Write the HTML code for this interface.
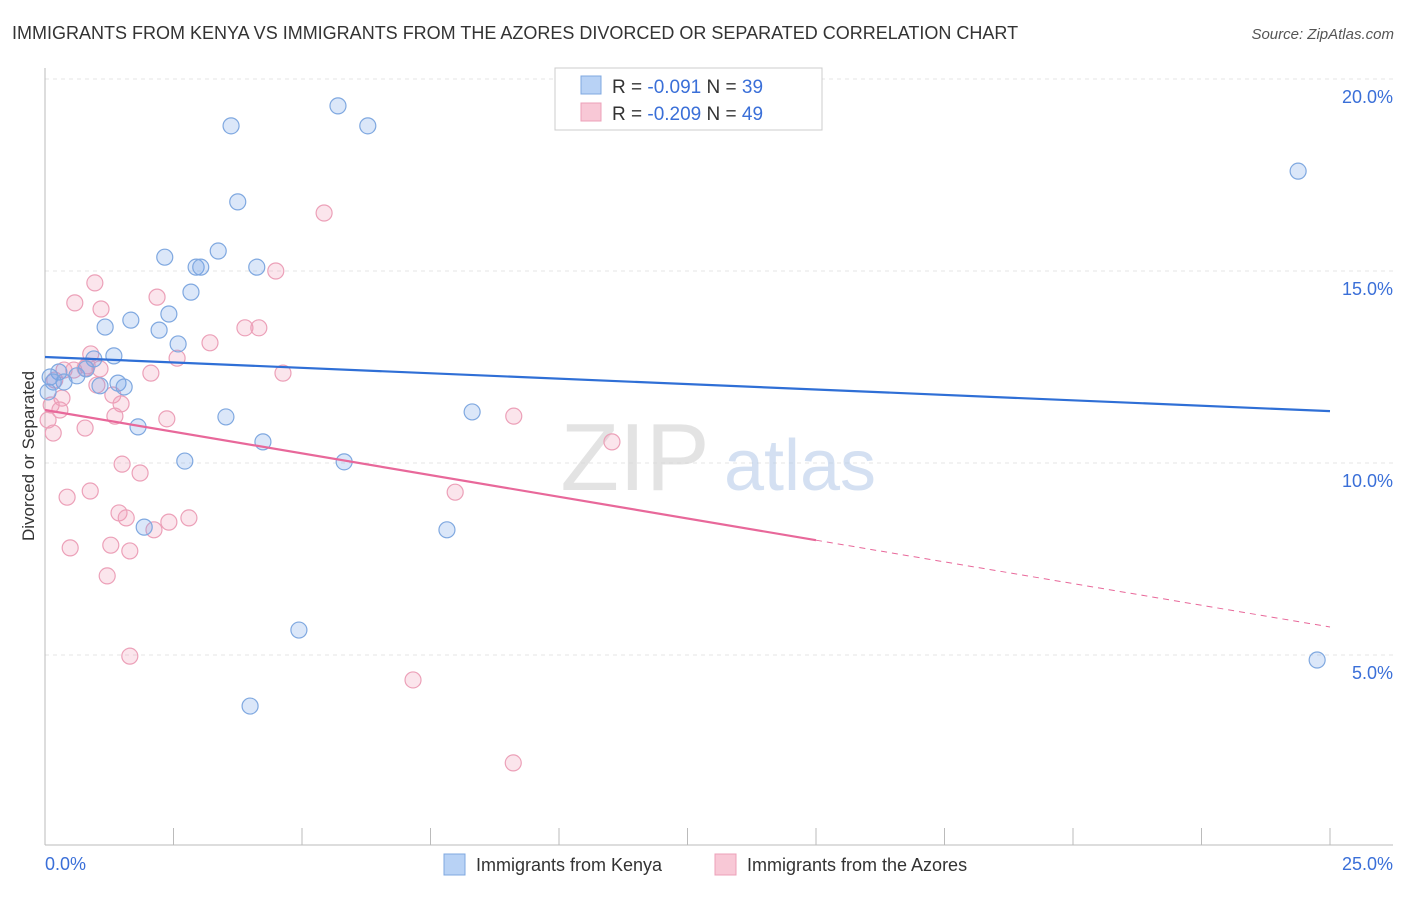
<!DOCTYPE html>
<html><head><meta charset="utf-8"><style>
body{margin:0;background:#fff;font-family:"Liberation Sans",sans-serif;}
svg text{font-family:"Liberation Sans",sans-serif;}
</style></head><body>
<svg id="chart" width="1406" height="892">
<text x="12" y="39" font-size="18" fill="#333">IMMIGRANTS FROM KENYA VS IMMIGRANTS FROM THE AZORES DIVORCED OR SEPARATED CORRELATION CHART</text>
<text x="1394" y="39" font-size="15" fill="#555" text-anchor="end" font-style="italic">Source: ZipAtlas.com</text>
<g id="grid"></g>
<g id="watermark">
<text x="635" y="490" font-size="96" fill="#d8d8d8" font-family="Liberation Serif" text-anchor="middle" opacity="0.7">ZIP</text>
<text x="800" y="490" font-size="72" fill="#b8cdea" text-anchor="middle" opacity="0.6">atlas</text>
</g>
<g id="axes"></g>
<g id="pts"></g>
<g id="trend"></g>
<text x="34" y="456" font-size="17" fill="#333" text-anchor="middle" transform="rotate(-90 34 456)">Divorced or Separated</text>
<g>
<rect x="555" y="68" width="267" height="62" fill="#fff" stroke="#ccc"/>
<rect x="581" y="76" width="20" height="18" fill="#b8d2f5" stroke="#7fa8e0"/>
<rect x="581" y="103" width="20" height="18" fill="#f8c8d6" stroke="#eca0b8"/>
<text x="612" y="93" font-size="19" fill="#333">R = <tspan fill="#3a6fd8">-0.091</tspan>   N = <tspan fill="#3a6fd8">39</tspan></text>
<text x="612" y="120" font-size="19" fill="#333">R = <tspan fill="#3a6fd8">-0.209</tspan>   N = <tspan fill="#3a6fd8">49</tspan></text>
</g>
<g>
<rect x="444" y="854" width="21" height="21" fill="#b8d2f5" stroke="#7fa8e0"/>
<text x="476" y="871" font-size="18" fill="#333">Immigrants from Kenya</text>
<rect x="715" y="854" width="21" height="21" fill="#f8c8d6" stroke="#eca0b8"/>
<text x="747" y="871" font-size="18" fill="#333">Immigrants from the Azores</text>
</g>
</svg>
<script>
const kenyaX=[5.70,3.62,6.28,3.75,24.38,3.37,2.33,2.94,3.03,4.12,2.84,2.41,1.67,1.17,2.22,2.59,1.34,0.95,0.27,0.10,0.37,0.62,0.80,1.07,1.42,1.54,0.16,1.81,3.52,4.24,8.31,2.72,5.82,1.93,7.82,4.94,3.99,24.75,0.06];
const kenyaY=[19.30,18.78,18.78,16.80,17.60,15.52,15.36,15.10,15.10,15.10,14.45,13.88,13.72,13.54,13.46,13.10,12.79,12.71,12.37,12.24,12.11,12.27,12.45,12.01,12.08,11.98,12.11,10.94,11.20,10.55,11.33,10.05,10.03,8.33,8.26,5.65,3.67,4.87,11.85];
const azoresX=[5.43,4.49,0.97,0.58,2.18,1.09,3.89,4.16,3.21,0.89,2.57,0.82,0.37,0.56,4.63,2.06,1.01,1.32,0.33,1.48,0.12,0.29,1.36,2.37,9.12,0.78,0.16,11.03,1.50,1.85,7.98,0.88,0.43,1.44,1.58,2.80,2.41,2.12,1.28,0.49,1.65,1.21,1.65,7.16,9.11,0.06,0.78,0.19,1.07];
const azoresY=[16.51,15.00,14.69,14.17,14.32,14.01,13.52,13.52,13.13,12.84,12.73,12.53,12.42,12.42,12.34,12.34,12.03,11.77,11.69,11.54,11.51,11.38,11.22,11.15,11.22,10.91,10.78,10.55,9.97,9.74,9.24,9.27,9.11,8.70,8.57,8.57,8.46,8.26,7.86,7.79,7.71,7.06,4.97,4.35,2.19,11.12,12.47,12.16,12.45];
const kenyaTrend=[12.76,11.35];
const azoresTrend=[11.38,5.73];
const yTicks=[5,10,15,20];
const yTickLabels=["5.0%","10.0%","15.0%","20.0%"];
const xTicks=[0,2.5,5,7.5,10,12.5,15,17.5,20,22.5,25];

const NS="http://www.w3.org/2000/svg";
const sx=v=>45+v*51.4;
const sy=v=>847-v*38.4;
function mk(tag,attrs,parent){const e=document.createElementNS(NS,tag);for(const k in attrs)e.setAttribute(k,attrs[k]);document.getElementById(parent).appendChild(e);return e;}

yTicks.forEach((t,i)=>{
  const l=mk('line',{x1:45,x2:1393,y1:sy(t),y2:sy(t),stroke:'#e4e4e4','stroke-dasharray':'4,4'},'grid');
  
  
  const tx=mk('text',{x:1393,y:sy(t)+24,'font-size':18,fill:'#3a6fd8','text-anchor':'end'},'axes');
  tx.textContent=yTickLabels[i];
  
  
});
const ax=mk('line',{x1:45,x2:1393,y1:845,y2:845,stroke:'#bbb'},'axes');


const ay=mk('line',{x1:45,x2:45,y1:68,y2:845,stroke:'#bbb'},'axes');


xTicks.forEach(t=>{
  const l=mk('line',{x1:sx(t),x2:sx(t),y1:828,y2:845,stroke:'#bbb'},'axes');
  
  
});
const x0=mk('text',{x:45,y:870,'font-size':18,fill:'#3a6fd8'},'axes');x0.textContent='0.0%';


const x1=mk('text',{x:1393,y:870,'font-size':18,fill:'#3a6fd8','text-anchor':'end'},'axes');x1.textContent='25.0%';



azoresX.forEach((v,i)=>{
  const c=mk('circle',{cx:sx(v),cy:sy(azoresY[i]),r:8,fill:'rgba(240,150,180,0.25)',stroke:'#eca0b8','stroke-width':1.2},'pts');
  
  
});
kenyaX.forEach((v,i)=>{
  const c=mk('circle',{cx:sx(v),cy:sy(kenyaY[i]),r:8,fill:'rgba(110,160,230,0.25)',stroke:'#7fa8e0','stroke-width':1.2},'pts');
  
  
});
const tb=mk('line',{x1:sx(0),y1:sy(kenyaTrend[0]),x2:sx(25),y2:sy(kenyaTrend[1]),stroke:'#2f6fd6','stroke-width':2.2},'trend');


const split=15;
const pm=azoresTrend[0]+(azoresTrend[1]-azoresTrend[0])*split/25;
const tp=mk('line',{x1:sx(0),y1:sy(azoresTrend[0]),x2:sx(split),y2:sy(pm),stroke:'#e8689a','stroke-width':2.2},'trend');


const tpd=mk('line',{x1:sx(split),y1:sy(pm),x2:sx(25),y2:sy(azoresTrend[1]),stroke:'#e8689a','stroke-width':1,'stroke-dasharray':'6,5'},'trend');


</script>
</body></html>
